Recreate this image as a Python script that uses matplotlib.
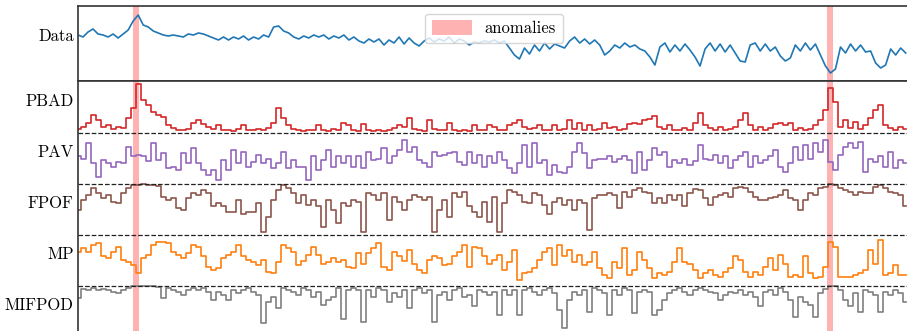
import numpy as np
import matplotlib
matplotlib.use("Agg")
import matplotlib.pyplot as plt
from matplotlib.patches import Patch

plt.rcParams['axes.formatter.use_mathtext'] = True

data = [46, 44, 49, 52, 47, 46, 44, 47, 43, 47, 51, 60, 66, 56, 54, 50, 48, 46, 45, 46,
        45, 44, 47, 46, 48, 47, 45, 43, 41, 44, 41, 44, 42, 45, 41, 44, 42, 46, 44, 54,
        55, 50, 48, 44, 42, 45, 43, 46, 44, 46, 42, 45, 43, 46, 41, 44, 40, 38, 42, 39,
        42, 36, 41, 38, 44, 37, 43, 38, 35, 40, 43, 39, 42, 40, 44, 38, 42, 40, 36, 39,
        38, 40, 39, 41, 38, 40, 33, 26, 22, 33, 27, 36, 30, 38, 32, 37, 35, 33, 40, 44,
        38, 42, 37, 41, 36, 26, 30, 36, 33, 38, 34, 36, 32, 30, 24, 16, 34, 38, 29, 36,
        30, 37, 31, 24, 15, 32, 38, 30, 37, 29, 36, 28, 20, 19, 36, 38, 30, 37, 30, 34,
        25, 20, 23, 36, 30, 38, 31, 37, 26, 15, 8, 12, 34, 28, 37, 30, 36, 29, 30, 18,
        13, 16, 32, 26, 33, 28]

pbad = [0.08, 0.12, 0.2, 0.35, 0.25, 0.12, 0.15, 0.08, 0.12, 0.1, 0.3, 0.5, 0.96, 0.65, 0.55, 0.42, 0.35, 0.32, 0.15, 0.1,
        0.06, 0.05, 0.08, 0.2, 0.25, 0.18, 0.12, 0.08, 0.15, 0.06, 0.05, 0.04, 0.08, 0.15, 0.05, 0.06, 0.08, 0.05, 0.1, 0.2,
        0.5, 0.3, 0.15, 0.08, 0.05, 0.04, 0.05, 0.06, 0.15, 0.05, 0.04, 0.08, 0.06, 0.2, 0.15, 0.05, 0.04, 0.18, 0.05, 0.04,
        0.05, 0.04, 0.06, 0.1, 0.15, 0.12, 0.3, 0.08, 0.06, 0.04, 0.25, 0.08, 0.05, 0.06, 0.2, 0.05, 0.04, 0.06, 0.04, 0.15,
        0.05, 0.06, 0.15, 0.12, 0.05, 0.06, 0.15, 0.2, 0.25, 0.12, 0.08, 0.1, 0.15, 0.06, 0.05, 0.15, 0.06, 0.08, 0.25, 0.08,
        0.2, 0.06, 0.15, 0.05, 0.08, 0.2, 0.1, 0.12, 0.06, 0.08, 0.18, 0.2, 0.18, 0.25, 0.28, 0.33, 0.12, 0.08, 0.15, 0.05,
        0.06, 0.1, 0.05, 0.2, 0.4, 0.15, 0.1, 0.06, 0.12, 0.05, 0.08, 0.12, 0.25, 0.4, 0.15, 0.06, 0.12, 0.05, 0.1, 0.18,
        0.2, 0.15, 0.2, 0.06, 0.1, 0.05, 0.08, 0.15, 0.25, 0.45, 0.88, 0.6, 0.12, 0.25, 0.1, 0.22, 0.08, 0.15, 0.3, 0.45,
        0.55, 0.15, 0.1, 0.06, 0.12, 0.08]

pav = [0.55, 0.5, 0.8, 0.41, 0.14, 0.47, 0.41, 0.34, 0.44, 0.41, 0.73, 0.54, 0.57, 0.54, 0.45, 0.8, 0.47, 0.6, 0.31, 0.34,
       0.27, 0.6, 0.41, 0.7, 0.41, 0.27, 0.18, 0.27, 0.08, 0.47, 0.27, 0.67, 0.41, 0.63, 0.34, 0.44, 0.57, 0.41, 0.5, 0.31,
       0.41, 0.63, 0.31, 0.47, 0.34, 0.34, 0.08, 0.54, 0.27, 0.47, 0.67, 0.34, 0.54, 0.41, 0.54, 0.34, 0.54, 0.31, 0.63, 0.47,
       0.5, 0.7, 0.41, 0.54, 0.67, 0.86, 0.63, 0.73, 0.47, 0.41, 0.34, 0.63, 0.54, 0.57, 0.6, 0.63, 0.44, 0.37, 0.63, 0.41,
       0.57, 0.34, 0.54, 0.41, 0.63, 0.47, 0.31, 0.21, 0.41, 0.76, 0.34, 0.8, 0.41, 0.47, 0.18, 0.37, 0.24, 0.21, 0.34, 0.63,
       0.8, 0.6, 0.31, 0.47, 0.5, 0.5, 0.54, 0.44, 0.5, 0.54, 0.47, 0.21, 0.63, 0.27, 0.47, 0.7, 0.57, 0.63, 0.34, 0.47,
       0.41, 0.5, 0.37, 0.45, 0.76, 0.5, 0.47, 0.57, 0.41, 0.54, 0.31, 0.47, 0.55, 0.63, 0.34, 0.54, 0.41, 0.47, 0.54, 0.67,
       0.34, 0.24, 0.41, 0.73, 0.47, 0.76, 0.5, 0.8, 0.63, 0.87, 0.44, 0.27, 0.57, 0.73, 0.8, 0.7, 0.83, 0.24, 0.5, 0.44,
       0.54, 0.34, 0.63, 0.31, 0.47, 0.41]

fpof = [0.49, 0.69, 0.78, 0.92, 0.82, 0.72, 0.78, 0.65, 0.62, 0.82, 0.92, 0.98, 0.99, 1.0, 0.99, 0.98, 0.97, 0.75, 0.69, 0.72,
        0.52, 0.49, 0.72, 0.82, 0.78, 0.88, 0.82, 0.56, 0.62, 0.56, 0.46, 0.46, 0.69, 0.42, 0.46, 0.46, 0.62, 0.06, 0.36, 0.69,
        0.88, 0.98, 0.92, 0.82, 0.62, 0.78, 0.59, 0.69, 0.56, 0.16, 0.69, 0.49, 0.23, 0.62, 0.56, 0.69, 0.65, 0.06, 0.82, 0.78,
        0.69, 0.82, 0.29, 0.75, 0.65, 0.49, 0.69, 0.78, 0.75, 0.69, 0.75, 0.06, 0.49, 0.69, 0.36, 0.82, 0.75, 0.85, 0.56, 0.46,
        0.36, 0.65, 0.26, 0.75, 0.06, 0.62, 0.88, 0.85, 0.78, 0.65, 0.62, 0.82, 0.78, 0.59, 0.42, 0.65, 0.72, 0.59, 0.69, 0.49,
        0.69, 0.62, 0.1, 0.72, 0.78, 0.78, 0.82, 0.78, 0.52, 0.85, 0.75, 0.88, 0.92, 0.85, 0.82, 0.62, 0.72, 0.62, 0.78, 0.69,
        0.78, 0.56, 0.82, 0.9, 0.88, 0.72, 0.59, 0.75, 0.78, 0.82, 0.75, 0.92, 0.95, 0.92, 0.85, 0.75, 0.69, 0.69, 0.72, 0.75,
        0.78, 0.88, 0.72, 0.69, 0.49, 0.69, 0.82, 0.78, 0.92, 0.95, 1.0, 0.99, 0.92, 0.88, 0.85, 0.78, 0.85, 0.82, 0.82, 0.95,
        0.98, 0.92, 0.85, 0.82, 0.78, 0.56]

mp = [0.67, 0.74, 0.67, 0.8, 0.84, 0.58, 0.54, 0.67, 0.77, 0.51, 0.48, 0.41, 0.25, 0.54, 0.61, 0.8, 0.87, 0.87, 0.84, 0.67,
      0.61, 0.54, 0.64, 0.8, 0.77, 0.58, 0.38, 0.31, 0.35, 0.54, 0.61, 0.67, 0.8, 0.58, 0.51, 0.48, 0.41, 0.51, 0.28, 0.25,
      0.48, 0.8, 0.74, 0.67, 0.41, 0.5, 0.61, 0.77, 0.61, 0.44, 0.48, 0.54, 0.48, 0.51, 0.38, 0.35, 0.64, 0.44, 0.64, 0.74,
      0.84, 0.38, 0.31, 0.67, 0.58, 0.5, 0.71, 0.44, 0.31, 0.25, 0.51, 0.58, 0.54, 0.41, 0.44, 0.58, 0.67, 0.8, 0.38, 0.77,
      0.74, 0.58, 0.44, 0.51, 0.61, 0.31, 0.48, 0.71, 0.12, 0.25, 0.28, 0.35, 0.51, 0.67, 0.74, 0.41, 0.8, 0.58, 0.71, 0.48,
      0.61, 0.41, 0.48, 0.67, 0.35, 0.22, 0.15, 0.48, 0.35, 0.74, 0.22, 0.31, 0.67, 0.51, 0.35, 0.15, 0.25, 0.22, 0.28, 0.48,
      0.74, 0.48, 0.44, 0.31, 0.15, 0.25, 0.31, 0.22, 0.18, 0.28, 0.35, 0.58, 0.51, 0.28, 0.18, 0.28, 0.22, 0.38, 0.54, 0.31,
      0.61, 0.44, 0.18, 0.22, 0.18, 0.58, 0.25, 0.15, 0.18, 0.38, 0.87, 0.77, 0.18, 0.18, 0.18, 0.22, 0.25, 0.31, 0.71, 0.44,
      0.9, 0.22, 0.25, 0.41, 0.22, 0.22]

mifpod = [0.76, 0.95, 0.92, 0.96, 0.92, 0.95, 0.92, 0.89, 0.86, 0.92, 0.96, 1.0, 1.0, 1.0, 1.0, 1.0, 0.99, 0.76, 0.96, 0.92,
          0.89, 0.82, 0.92, 0.96, 0.92, 0.96, 0.89, 0.73, 0.89, 0.82, 0.73, 0.92, 0.86, 0.92, 0.96, 0.89, 0.82, 0.27, 0.69, 0.79,
          0.56, 0.96, 0.92, 0.89, 0.82, 0.96, 0.92, 0.79, 0.89, 0.63, 0.73, 0.79, 0.96, 0.36, 0.92, 0.96, 0.92, 0.3, 0.92, 0.79,
          0.96, 0.92, 0.69, 0.86, 0.79, 0.92, 0.56, 0.92, 0.96, 0.86, 0.92, 0.3, 0.82, 0.89, 0.73, 0.92, 0.96, 0.79, 0.82, 0.6,
          0.92, 0.89, 0.82, 0.89, 0.43, 0.92, 0.82, 0.92, 0.43, 0.92, 0.96, 0.89, 0.82, 0.92, 0.96, 0.86, 0.53, 0.17, 0.73, 0.89,
          0.82, 0.92, 0.5, 0.96, 0.92, 0.86, 0.43, 0.92, 0.82, 0.96, 0.92, 0.47, 0.89, 0.92, 0.89, 0.43, 0.53, 0.73, 0.86, 0.92,
          0.96, 0.89, 0.82, 0.92, 0.96, 0.92, 0.89, 0.86, 0.73, 0.82, 0.89, 0.86, 0.92, 0.82, 0.89, 0.79, 0.6, 0.89, 0.92, 0.82,
          0.96, 0.89, 0.73, 0.4, 0.79, 0.69, 0.63, 0.4, 0.86, 0.95, 1.0, 1.0, 0.92, 0.73, 0.6, 0.86, 0.5, 0.92, 0.89, 0.82,
          0.5, 0.89, 0.82, 0.92, 0.86, 0.69]

score_names = ["PBAD", "PAV", "FPOF", "MP", "MIFPOD"]
score_colors = ["tab:red", "tab:purple", "tab:brown", "tab:orange", "tab:gray"]
scores = [pbad, pav, fpof, mp, mifpod]

anomaly_starts = [11.0, 149.4]
anomaly_ends = [12.2, 150.6]

N_SPAN = 165
XMAX = 165.8

fig = plt.figure(figsize=(9.07, 3.31), dpi=100)
left = 78 / 907
width = 1.003 - left
ax_top = fig.add_axes([left, 1 - 81 / 331, width, 75 / 331])
ax_bot = fig.add_axes([left, 0.0, width, 1 - 81 / 331])

serif = "cmr10"

# top: data
x = np.linspace(0, N_SPAN, len(data))
ax_top.plot(x, data, color="tab:blue", lw=1.2)
for s, e in zip(anomaly_starts, anomaly_ends):
    ax_top.axvspan(s, e, color="red", alpha=0.3, lw=0)
    ax_bot.axvspan(s, e, color="red", alpha=0.3, lw=0)
ax_top.set_xlim(0, XMAX)
ax_top.set_ylim(0, 75)
ax_top.set_xticks([])
ax_top.set_yticks([46])
ax_top.set_yticklabels(["Data"], fontfamily=serif, fontsize=12)
ax_top.tick_params(axis="y", length=0, pad=3)
for sp in ax_top.spines.values():
    sp.set_color("#333333")
    sp.set_linewidth(1.2)
leg = ax_top.legend(handles=[Patch(color="red", alpha=0.3, lw=0, label="anomalies")],
                    loc="upper center", prop={"family": serif, "size": 12},
                    handlelength=2.4, handleheight=1.0, framealpha=0.8,
                    borderaxespad=0.45)

# bottom: scores
n_sc = len(scores)
ticks = []
for i, (s, c) in enumerate(zip(scores, score_colors)):
    off = n_sc - 1 - i
    xs = np.linspace(0, N_SPAN, len(s))
    ax_bot.plot(xs, np.array(s) + off, color=c, lw=1.2, drawstyle="steps-mid")
    ticks.append(off + 0.65)
for k in range(1, n_sc):
    ax_bot.axhline(k, color="#222222", ls="--", lw=0.9)
ax_bot.set_xlim(0, XMAX)
ax_bot.set_ylim(4 - 198 / 51, 4 + 52 / 51)
ax_bot.set_xticks([])
ax_bot.set_yticks(ticks)
ax_bot.set_yticklabels(score_names, fontfamily=serif, fontsize=12)
ax_bot.tick_params(axis="y", length=0, pad=3)
ax_bot.spines["right"].set_visible(False)
ax_bot.spines["bottom"].set_visible(False)
for sp in ["left", "top"]:
    ax_bot.spines[sp].set_color("#333333")
    ax_bot.spines[sp].set_linewidth(1.2)

fig.savefig("out.png", dpi=100)
